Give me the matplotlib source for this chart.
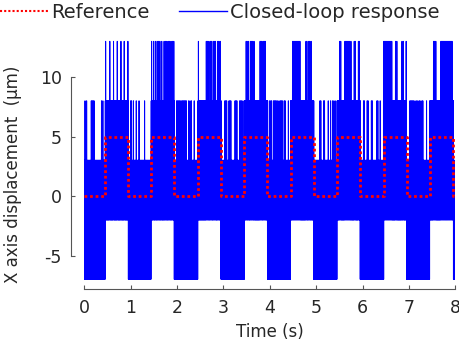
import numpy as np
import matplotlib.pyplot as plt

# reference square wave (switch times in s, level in um)
t_ref = [0, 0.45, 0.95, 1.44, 1.94, 2.45, 2.95, 3.45, 3.95, 4.45, 4.95,
         5.45, 5.95, 6.46, 6.95, 7.45, 7.96, 8.0]
ref = [0, 5, 0, 5, 0, 5, 0, 5, 0, 5, 0, 5, 0, 5, 0, 5, 0, 0]

# quantised response: dense band per reference segment
band_lo = [-7, -2, -7, -2, -7, -2, -7, -2, -7, -2, -7, -2, -7, -2, -7, -2, -7]
band_hi = [3, 8, 3, 8, 3, 8, 3, 8, 3, 8, 3, 8, 3, 8, 3, 8, 3]

# times where response jumps to the next level (13 um in high, 8 um in low)
spike13 = [0.46, 0.55, 0.63, 0.71, 0.79, 0.86, 0.94,
           1.45, 1.49, 1.53, 1.57, 1.60, 1.63, 1.67, 1.72, 1.75, 1.78, 1.81,
           1.84, 1.87, 1.90, 1.93,
           2.46, 2.63, 2.65, 2.67, 2.71, 2.73, 2.75, 2.79, 2.81, 2.83, 2.88,
           2.90, 2.93,
           3.49, 3.51, 3.54, 3.58, 3.61, 3.63, 3.66, 3.79, 3.81, 3.83, 3.86,
           3.88, 3.90,
           4.49, 4.51, 4.53, 4.55, 4.57, 4.59, 4.61, 4.63, 4.65, 4.78, 4.80,
           4.84, 4.86, 4.89,
           5.51, 5.53, 5.62, 5.64, 5.66, 5.68, 5.70, 5.72, 5.75, 5.82, 5.84,
           5.91, 5.93,
           6.46, 6.48, 6.50, 6.52, 6.54, 6.56, 6.58, 6.60, 6.63, 6.71, 6.74,
           6.85, 6.88, 6.94,
           7.53, 7.55, 7.58, 7.69, 7.71, 7.73, 7.75, 7.77, 7.79, 7.81, 7.83,
           7.85, 7.87, 7.89, 7.91, 7.93]
spike8 = [0.015, 0.05, 0.15, 0.17, 0.19, 0.21, 0.37, 0.40,
          1.00, 1.02, 1.06, 1.12, 1.18, 1.30,
          1.99, 2.01, 2.03, 2.05, 2.07, 2.10, 2.12, 2.14, 2.16, 2.18, 2.20,
          2.25, 2.28, 2.31, 2.37,
          3.03, 3.05, 3.07, 3.12, 3.14, 3.16, 3.25, 3.27, 3.29, 3.35, 3.37,
          3.39, 3.42,
          3.99, 4.02, 4.04, 4.08, 4.10, 4.12, 4.14, 4.17, 4.20, 4.23, 4.25,
          4.27, 4.31, 4.33, 4.40,
          5.08, 5.10, 5.16, 5.18, 5.26, 5.31, 5.35, 5.38, 5.41,
          6.02, 6.04, 6.10, 6.12, 6.19, 6.21, 6.31, 6.33, 6.38,
          7.02, 7.04, 7.06, 7.08, 7.10, 7.13, 7.16, 7.19, 7.22, 7.24, 7.28,
          7.30, 7.38]

dt = 0.0025
t = np.arange(0, 8 + dt / 2, dt)
seg = np.searchsorted(t_ref[1:-1], t, side='right')
lo = np.array(band_lo)[seg]
hi = np.array(band_hi)[seg]
y = np.where(np.arange(len(t)) % 2 == 0, lo, hi).astype(float)
for s in spike13:
    y[np.argmin(abs(t - s))] = 13
for s in spike8:
    y[np.argmin(abs(t - s))] = 8

txt = '#262626'
plt.rcParams['font.family'] = ['DejaVu Sans']
plt.rcParams['font.size'] = 12
plt.rcParams['axes.unicode_minus'] = False

fig = plt.figure(figsize=(4.6, 3.47), dpi=100)
ax = fig.add_axes([0.1833, 0.1916, 0.8065, 0.6928])

l2, = ax.plot(t, y, color=(0, 0, 1), lw=0.7)
l1, = ax.plot(t_ref, ref, color=(1, 0, 0), lw=2.0, ls=(0, (1, 1)),
              drawstyle='steps-post')

ax.set_xlim(0, 8)
ax.set_ylim(-7.1, 13.1)
ax.set_xticks(range(0, 9))
ax.set_yticks([-5, 0, 5, 10])

for side in ['top', 'right']:
    ax.spines[side].set_visible(False)
ax.spines['left'].set_position(('outward', 9.6))
ax.spines['bottom'].set_position(('outward', 6.1))
ax.spines['left'].set_bounds(-5, 10)
ax.spines['bottom'].set_bounds(0, 8)
for side in ['left', 'bottom']:
    ax.spines[side].set_color('#555555')
    ax.spines[side].set_linewidth(0.8)
ax.tick_params(direction='in', length=3, width=0.8, color='#555555',
               labelcolor=txt, labelsize=12.5)
ax.tick_params(axis='y', pad=6.5)
ax.tick_params(axis='x', pad=7)

ax.set_xlabel('Time (s)', color=txt, fontsize=12)
ax.set_ylabel('X axis displacement  (\u03bcm)', color=txt, fontsize=12)
ax.xaxis.set_label_coords(0.5, -0.175)
ax.yaxis.set_label_coords(-0.168, 0.44)

leg_ref = plt.Line2D([], [], color=(1, 0, 0), lw=1.5, ls=(0, (1, 1)))
leg_cl = plt.Line2D([], [], color=(0, 0, 1), lw=1.0)
leg = fig.legend([leg_ref, leg_cl], ['Reference', 'Closed-loop response'],
                 loc='upper left', bbox_to_anchor=(-0.003, 0.995), ncol=2,
                 frameon=False, fontsize=14, handlelength=2.5,
                 handletextpad=0.15, columnspacing=1.5, borderaxespad=0,
                 borderpad=0.05)
for tx in leg.get_texts():
    tx.set_color(txt)

fig.savefig('out.png', dpi=100)
